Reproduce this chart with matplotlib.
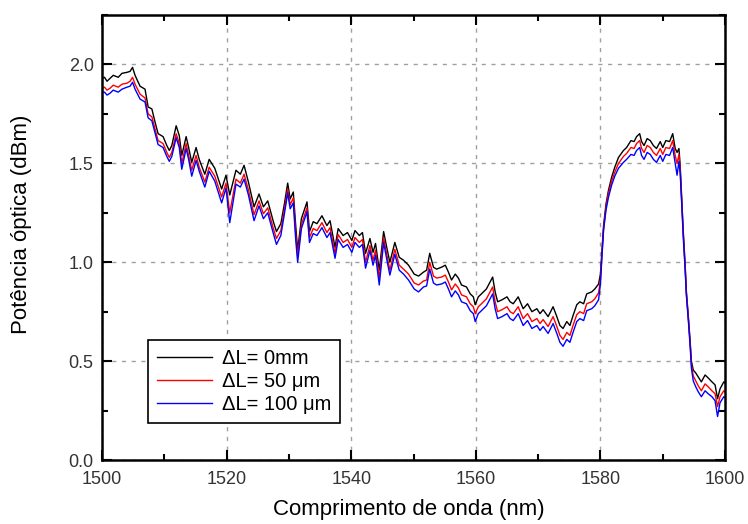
import matplotlib
matplotlib.use("Agg")
import matplotlib.pyplot as plt
from matplotlib.ticker import MultipleLocator

plt.rcParams['font.family'] = ['Liberation Sans', 'DejaVu Sans']

# Wavelength samples (nm)
wavelength = [
    1500.0, 1500.4, 1500.8, 1501.3, 1501.8, 1502.6, 1503.2, 1504.0, 1504.5, 1504.9,
    1505.3, 1506.1, 1506.9, 1507.4, 1508.0, 1508.5, 1509.0, 1509.8, 1510.4, 1510.8,
    1511.2, 1511.9, 1512.4, 1512.8, 1513.5, 1513.9, 1514.4, 1515.1, 1515.6, 1516.5,
    1517.2, 1518.1, 1519.2, 1519.9, 1520.5, 1521.5, 1522.2, 1522.8, 1523.5, 1524.4,
    1525.2, 1525.9, 1526.6, 1527.5, 1528.0, 1528.7, 1529.3, 1529.8, 1530.2, 1530.7,
    1531.1, 1531.4, 1532.0, 1532.9, 1533.3, 1533.9, 1534.5, 1535.3, 1536.1, 1536.6,
    1537.4, 1537.9, 1538.7, 1539.4, 1540.1, 1540.6, 1541.3, 1541.8, 1542.3, 1543.0,
    1543.5, 1543.9, 1544.5, 1545.2, 1545.7, 1546.2, 1547.0, 1547.7, 1548.4, 1549.2,
    1550.1, 1550.8, 1551.6, 1552.1, 1552.6, 1553.2, 1553.7, 1554.5, 1555.1, 1555.6,
    1556.1, 1556.7, 1557.2, 1557.7, 1558.5, 1559.1, 1559.6, 1559.9, 1560.4, 1560.9,
    1561.7, 1562.7, 1563.1, 1563.5, 1564.2, 1565.0, 1565.5, 1566.0, 1566.8, 1567.6,
    1568.3, 1569.0, 1569.8, 1570.3, 1570.8, 1571.6, 1572.4, 1573.0, 1573.5, 1574.0,
    1574.6, 1575.1, 1575.6, 1576.2, 1576.7, 1577.3, 1577.8, 1578.6, 1579.1, 1579.7,
    1580.0, 1580.2, 1580.5, 1580.9, 1581.3, 1581.8, 1582.3, 1582.9, 1583.7, 1584.2,
    1584.9, 1585.4, 1585.8, 1586.3, 1586.6, 1587.0, 1587.5, 1588.0, 1588.5, 1589.0,
    1589.6, 1590.0, 1590.5, 1591.1, 1591.6, 1592.0, 1592.3, 1592.6, 1592.8, 1593.0,
    1593.3, 1593.6, 1593.8, 1594.1, 1594.4, 1594.6, 1594.9, 1595.3, 1595.7, 1596.2,
    1596.8, 1597.3, 1597.9, 1598.4, 1598.8, 1599.2, 1599.8, 1600.0,
]

# Optical power (dBm), delta L = 0 mm
power_0mm = [
    1.930, 1.935, 1.915, 1.930, 1.945, 1.935, 1.955, 1.960, 1.965, 1.985,
    1.945, 1.890, 1.875, 1.785, 1.775, 1.710, 1.650, 1.635, 1.590, 1.565,
    1.590, 1.690, 1.640, 1.540, 1.635, 1.580, 1.505, 1.580, 1.520, 1.445,
    1.520, 1.475, 1.370, 1.440, 1.340, 1.465, 1.445, 1.490, 1.405, 1.280,
    1.345, 1.280, 1.310, 1.205, 1.155, 1.195, 1.300, 1.400, 1.320, 1.355,
    1.180, 1.060, 1.220, 1.305, 1.155, 1.205, 1.195, 1.235, 1.185, 1.210,
    1.075, 1.170, 1.135, 1.150, 1.110, 1.160, 1.135, 1.150, 1.045, 1.120,
    1.050, 1.095, 0.960, 1.155, 1.075, 1.000, 1.100, 1.025, 1.010, 0.985,
    0.940, 0.930, 0.950, 0.960, 1.045, 0.975, 0.965, 0.975, 0.985, 0.950,
    0.910, 0.940, 0.920, 0.885, 0.875, 0.840, 0.825, 0.785, 0.825, 0.840,
    0.865, 0.925, 0.850, 0.800, 0.810, 0.825, 0.800, 0.790, 0.825, 0.765,
    0.790, 0.750, 0.765, 0.740, 0.760, 0.725, 0.775, 0.725, 0.680, 0.665,
    0.700, 0.680, 0.730, 0.785, 0.800, 0.790, 0.840, 0.850, 0.865, 0.890,
    0.940, 1.035, 1.185, 1.295, 1.365, 1.430, 1.480, 1.530, 1.565, 1.580,
    1.615, 1.610, 1.635, 1.650, 1.610, 1.590, 1.625, 1.615, 1.590, 1.575,
    1.610, 1.580, 1.615, 1.610, 1.650, 1.575, 1.555, 1.575, 1.490, 1.355,
    1.155, 0.985, 0.850, 0.730, 0.600, 0.500, 0.455, 0.440, 0.420, 0.395,
    0.430, 0.415, 0.395, 0.380, 0.310, 0.360, 0.395, 0.390,
]

# Optical power (dBm), delta L = 50 um
power_50um = [
    1.880, 1.885, 1.870, 1.880, 1.895, 1.885, 1.900, 1.905, 1.915, 1.935,
    1.900, 1.850, 1.830, 1.750, 1.735, 1.675, 1.615, 1.600, 1.555, 1.530,
    1.555, 1.650, 1.600, 1.500, 1.600, 1.540, 1.465, 1.540, 1.480, 1.405,
    1.480, 1.435, 1.330, 1.400, 1.250, 1.420, 1.400, 1.445, 1.365, 1.240,
    1.310, 1.245, 1.275, 1.170, 1.120, 1.160, 1.270, 1.370, 1.290, 1.325,
    1.140, 1.030, 1.190, 1.275, 1.125, 1.170, 1.160, 1.200, 1.150, 1.175,
    1.045, 1.140, 1.100, 1.115, 1.075, 1.125, 1.100, 1.115, 1.000, 1.085,
    1.010, 1.060, 0.920, 1.125, 1.040, 0.960, 1.065, 0.985, 0.965, 0.940,
    0.895, 0.885, 0.905, 0.910, 1.000, 0.930, 0.920, 0.925, 0.935, 0.900,
    0.860, 0.890, 0.870, 0.835, 0.825, 0.790, 0.775, 0.740, 0.775, 0.790,
    0.815, 0.875, 0.800, 0.750, 0.760, 0.775, 0.750, 0.740, 0.775, 0.715,
    0.740, 0.700, 0.715, 0.690, 0.710, 0.675, 0.725, 0.675, 0.630, 0.610,
    0.645, 0.630, 0.680, 0.735, 0.750, 0.740, 0.790, 0.800, 0.815, 0.845,
    0.910, 1.020, 1.170, 1.280, 1.350, 1.410, 1.455, 1.500, 1.535, 1.550,
    1.580, 1.575, 1.600, 1.615, 1.575, 1.555, 1.590, 1.580, 1.555, 1.540,
    1.575, 1.545, 1.580, 1.575, 1.615, 1.540, 1.500, 1.545, 1.470, 1.340,
    1.140, 0.975, 0.840, 0.720, 0.590, 0.485, 0.425, 0.400, 0.375, 0.350,
    0.385, 0.370, 0.350, 0.335, 0.270, 0.320, 0.350, 0.345,
]

# Optical power (dBm), delta L = 100 um
power_100um = [
    1.860, 1.860, 1.845, 1.855, 1.870, 1.860, 1.875, 1.885, 1.890, 1.910,
    1.875, 1.825, 1.810, 1.730, 1.715, 1.655, 1.595, 1.580, 1.535, 1.510,
    1.535, 1.630, 1.580, 1.470, 1.575, 1.520, 1.435, 1.515, 1.460, 1.380,
    1.460, 1.410, 1.300, 1.375, 1.200, 1.395, 1.380, 1.420, 1.340, 1.210,
    1.285, 1.220, 1.250, 1.145, 1.090, 1.135, 1.250, 1.350, 1.270, 1.300,
    1.110, 1.000, 1.170, 1.255, 1.100, 1.145, 1.135, 1.175, 1.125, 1.150,
    1.020, 1.115, 1.075, 1.090, 1.050, 1.100, 1.075, 1.090, 0.970, 1.060,
    0.985, 1.035, 0.885, 1.100, 1.015, 0.935, 1.040, 0.960, 0.940, 0.910,
    0.865, 0.850, 0.875, 0.880, 0.965, 0.895, 0.885, 0.890, 0.900, 0.865,
    0.825, 0.855, 0.835, 0.800, 0.790, 0.755, 0.740, 0.700, 0.740, 0.755,
    0.780, 0.840, 0.765, 0.715, 0.725, 0.740, 0.715, 0.705, 0.740, 0.680,
    0.705, 0.665, 0.680, 0.655, 0.675, 0.640, 0.690, 0.640, 0.595, 0.575,
    0.610, 0.595, 0.645, 0.700, 0.715, 0.705, 0.755, 0.765, 0.780, 0.810,
    0.890, 1.005, 1.160, 1.265, 1.330, 1.390, 1.435, 1.475, 1.505, 1.520,
    1.545, 1.540, 1.565, 1.580, 1.540, 1.520, 1.555, 1.545, 1.520, 1.505,
    1.540, 1.510, 1.545, 1.540, 1.580, 1.500, 1.440, 1.510, 1.450, 1.325,
    1.125, 0.960, 0.830, 0.710, 0.575, 0.465, 0.400, 0.370, 0.345, 0.320,
    0.350, 0.335, 0.320, 0.300, 0.220, 0.290, 0.320, 0.315,
]

series_labels = ["\u0394L= 0mm", "\u0394L= 50 \u03bcm", "\u0394L= 100 \u03bcm"]
series_colors = ["black", "#ff0000", "#0000ff"]

fig = plt.figure(figsize=(7.48, 5.24), dpi=100)
ax = fig.add_axes([0.1364, 0.1221, 0.8329, 0.8493])

for values, label, color in zip([power_0mm, power_50um, power_100um],
                                series_labels, series_colors):
    ax.plot(wavelength, values, color=color, lw=1.0, label=label)

ax.set_xlim(1500, 1600)
ax.set_ylim(0.0, 2.25)
ax.xaxis.set_major_locator(MultipleLocator(20))
ax.xaxis.set_minor_locator(MultipleLocator(10))
ax.yaxis.set_major_locator(MultipleLocator(0.5))
ax.yaxis.set_minor_locator(MultipleLocator(0.25))
ax.yaxis.set_major_formatter(plt.FormatStrFormatter('%.1f'))

ax.grid(True, which='major', color='#a0a0a0', linestyle=(0, (3, 4)), lw=1.0)
ax.tick_params(which='both', direction='in', top=True, right=True,
               labelsize=13, colors='black', width=1.5)
ax.tick_params(which='major', length=7)
ax.tick_params(which='minor', length=4)
ax.tick_params(axis='x', which='major', pad=8)
ax.tick_params(axis='y', which='major', pad=6)
for tl in ax.get_xticklabels() + ax.get_yticklabels():
    tl.set_color('#333333')
for sp in ax.spines.values():
    sp.set_linewidth(1.8)

ax.set_xlabel("Comprimento de onda (nm)", fontsize=16)
ax.set_ylabel("Pot\u00eancia \u00f3ptica (dBm)", fontsize=16)
ax.xaxis.set_label_coords(0.492, -0.088)
ax.yaxis.set_label_coords(-0.113, 0.53)

leg = ax.legend(loc='upper left', bbox_to_anchor=(0.074, 0.27), fontsize=14.5,
                frameon=True, fancybox=False, framealpha=1.0, edgecolor='black',
                handlelength=2.7, handletextpad=0.5, borderpad=0.45,
                labelspacing=0.2, borderaxespad=0)
leg.get_frame().set_linewidth(1.2)

fig.savefig("out.png", dpi=100)
